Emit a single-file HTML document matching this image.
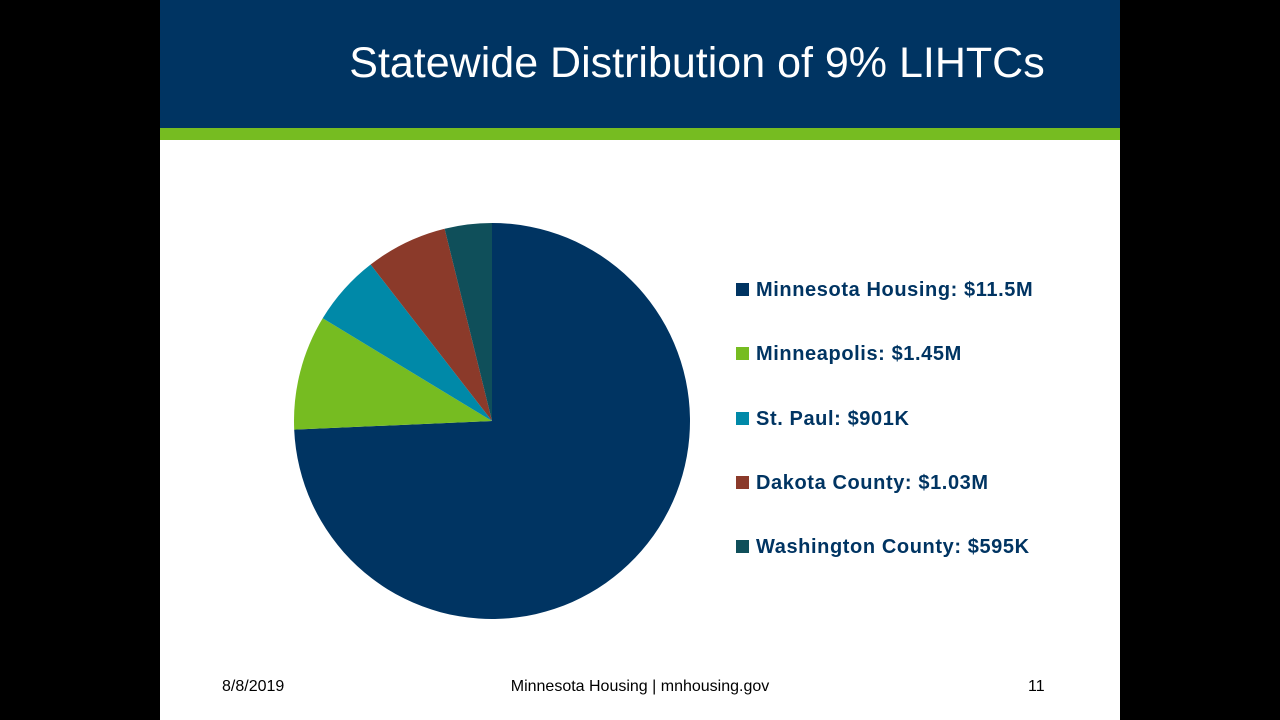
<!DOCTYPE html>
<html><head><meta charset="utf-8"><style>
body{margin:0;width:1280px;height:720px;background:#000;position:relative;overflow:hidden;font-family:"Liberation Sans",sans-serif}
#slide{position:absolute;left:160px;top:0;width:960px;height:720px;background:#fff}
#hdr{position:absolute;left:0;top:0;width:960px;height:128px;background:#003462}
#grn{position:absolute;left:0;top:128px;width:960px;height:12px;background:#76bc21}
#title{position:absolute;left:0;top:38px;width:1074px;text-align:center;color:#fff;font-size:43px;line-height:50px}
.leg{position:absolute;left:576px;font-size:20px;font-weight:bold;color:#003462;line-height:24px;letter-spacing:0.6px}
.leg span{display:inline-block;width:13px;height:13px;margin-right:7px;vertical-align:0px}
.ft{position:absolute;top:678px;font-size:16px;color:#000}
</style></head><body>
<div id="slide">
<div id="hdr"></div>
<div id="grn"></div>
<div id="title">Statewide Distribution of 9% LIHTCs</div>
<svg id="pie" width="960" height="720" style="position:absolute;left:0;top:0"></svg>
<div id="legend"></div>
<div class="ft" style="left:62px">8/8/2019</div>
<div class="ft" style="left:0;width:960px;text-align:center">Minnesota Housing | mnhousing.gov</div>
<div class="ft" style="left:868px">11</div>
</div>
<script>
const categories=["Minnesota Housing","Minneapolis","St. Paul","Dakota County","Washington County"];
const values=[11.5,1.45,0.901,1.03,0.595];
const labels=["$11.5M","$1.45M","$901K","$1.03M","$595K"];
const colors=["#003462","#76bc21","#0089a8","#8b3a2a","#0f4f5a"];
const svg=document.getElementById('pie');
const cx=332,cy=421,r=198;
const total=values.reduce((a,b)=>a+b,0);
let a0=0;
values.forEach((v,i)=>{
  const a1=a0+v/total*2*Math.PI;
  const x0=cx+r*Math.sin(a0),y0=cy-r*Math.cos(a0),x1=cx+r*Math.sin(a1),y1=cy-r*Math.cos(a1);
  const large=(a1-a0)>Math.PI?1:0;
  const p=document.createElementNS('http://www.w3.org/2000/svg','path');
  p.setAttribute('d',`M${cx},${cy}L${x0},${y0}A${r},${r} 0 ${large} 1 ${x1},${y1}Z`);
  p.setAttribute('fill',colors[i]);
  
  
  svg.appendChild(p);
  a0=a1;
});
const leg=document.getElementById('legend');
categories.forEach((c,i)=>{
  const d=document.createElement('div');
  d.className='leg';
  d.style.top=(278+i*64.3)+'px';
  
  
  d.innerHTML=`<span style="background:${colors[i]}"></span>${c}: ${labels[i]}`;
  leg.appendChild(d);
});
</script>
</body></html>
